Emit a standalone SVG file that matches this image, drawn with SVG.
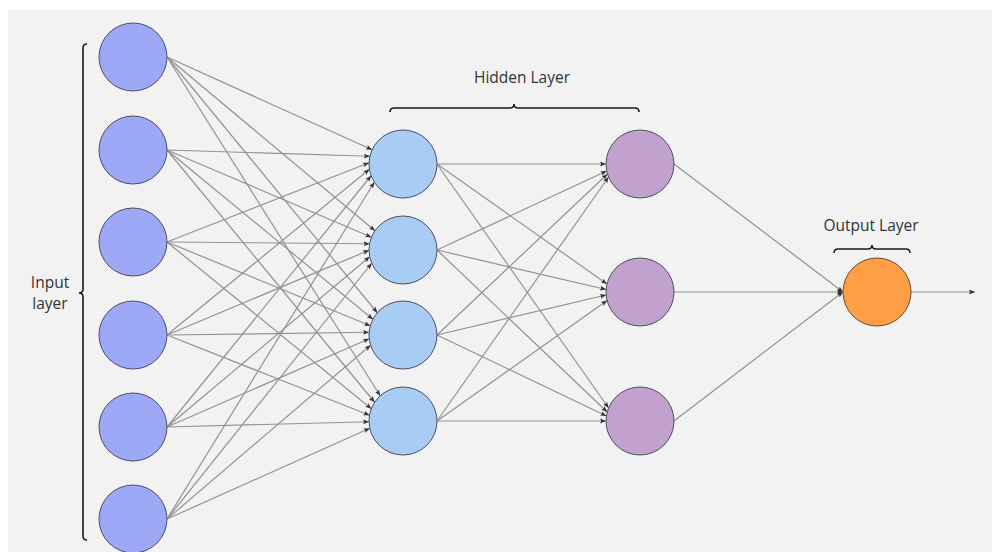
<svg xmlns="http://www.w3.org/2000/svg" width="992" height="552" viewBox="0 0 992 552">
<defs>
<marker id="arr" viewBox="0 0 10 10" refX="10" refY="5" markerWidth="6" markerHeight="6" orient="auto" markerUnits="userSpaceOnUse">
<path d="M0,1 L10,5 L0,9 L2,5 Z" fill="#333"/>
</marker>
<style>
.e{stroke:#929292;stroke-width:1.2;fill:none;marker-end:url(#arr)}
.n{stroke:#4d4d66;stroke-width:1}
.in{fill:#9DA8F7}
.h1{fill:#A8CCF3}
.h2{fill:#C1A2CF}
.out{fill:#FF9F45;stroke:#6b4a2a}
.br{fill:none;stroke:#1a1a1a;stroke-width:1.6}
.t{font-family:"Open Sans","Noto Sans",sans-serif;font-size:15.5px;fill:#333;text-anchor:middle}
</style>
</defs>
<rect x="0" y="0" width="992" height="552" fill="#ffffff"/>
<rect x="8" y="10" width="984" height="542" fill="#f2f2f2"/>
<g id="connectors">
<!-- input -> hidden1 a -->
<line class="e" x1="167" y1="57" x2="372.1" y2="149.75"/>
<line class="e" x1="167" y1="150" x2="369.9" y2="156.25"/>
<line class="e" x1="167" y1="242" x2="369.0" y2="162.75"/>
<line class="e" x1="167" y1="335" x2="369.4" y2="169.25"/>
<line class="e" x1="167" y1="427" x2="371.1" y2="175.75"/>
<line class="e" x1="167" y1="519" x2="374.3" y2="182.25"/>
<!-- input -> hidden1 b -->
<line class="e" x1="167" y1="57" x2="375.0" y2="230.75"/>
<line class="e" x1="167" y1="150" x2="371.5" y2="237.25"/>
<line class="e" x1="167" y1="242" x2="369.6" y2="243.75"/>
<line class="e" x1="167" y1="335" x2="369.0" y2="250.25"/>
<line class="e" x1="167" y1="427" x2="369.7" y2="256.75"/>
<line class="e" x1="167" y1="519" x2="371.7" y2="263.25"/>
<!-- input -> hidden1 c -->
<line class="e" x1="167" y1="57" x2="377.3" y2="312.75"/>
<line class="e" x1="167" y1="150" x2="372.9" y2="319.25"/>
<line class="e" x1="167" y1="242" x2="370.3" y2="325.75"/>
<line class="e" x1="167" y1="335" x2="369.1" y2="332.25"/>
<line class="e" x1="167" y1="427" x2="369.2" y2="338.75"/>
<line class="e" x1="167" y1="519" x2="370.6" y2="345.25"/>
<!-- input -> hidden1 d -->
<line class="e" x1="167" y1="57" x2="380.2" y2="395.75"/>
<line class="e" x1="167" y1="150" x2="374.6" y2="402.25"/>
<line class="e" x1="167" y1="242" x2="371.3" y2="408.75"/>
<line class="e" x1="167" y1="335" x2="369.5" y2="415.25"/>
<line class="e" x1="167" y1="427" x2="369.0" y2="421.75"/>
<line class="e" x1="167" y1="519" x2="369.8" y2="428.25"/>
<!-- hidden1 -> hidden2 a -->
<line class="e" x1="437" y1="164" x2="606" y2="164"/>
<line class="e" x1="437" y1="250" x2="606.7" y2="171"/>
<line class="e" x1="437" y1="335" x2="607.5" y2="174"/>
<line class="e" x1="437" y1="421" x2="608.6" y2="177"/>
<!-- hidden1 -> hidden2 b -->
<line class="e" x1="437" y1="164" x2="607.0" y2="284"/>
<line class="e" x1="437" y1="250" x2="606.1" y2="289.5"/>
<line class="e" x1="437" y1="335" x2="606.1" y2="295"/>
<line class="e" x1="437" y1="421" x2="607.1" y2="300.5"/>
<!-- hidden1 -> hidden2 c -->
<line class="e" x1="437" y1="164" x2="608.6" y2="408"/>
<line class="e" x1="437" y1="250" x2="607.2" y2="412"/>
<line class="e" x1="437" y1="335" x2="606.4" y2="416"/>
<line class="e" x1="437" y1="421" x2="606" y2="421"/>
<!-- hidden2 -> output -->
<line class="e" x1="674" y1="164" x2="843" y2="292"/>
<line class="e" x1="674" y1="292" x2="843" y2="292"/>
<line class="e" x1="674" y1="421" x2="843" y2="292"/>
<!-- output -->
<line class="e" x1="911" y1="292" x2="975" y2="292"/>
</g>
<g id="input-nodes">
<g id="in1"><circle class="n in" cx="133" cy="57" r="34"/></g>
<g id="in2"><circle class="n in" cx="133" cy="150" r="34"/></g>
<g id="in3"><circle class="n in" cx="133" cy="242" r="34"/></g>
<g id="in4"><circle class="n in" cx="133" cy="335" r="34"/></g>
<g id="in5"><circle class="n in" cx="133" cy="427" r="34"/></g>
<g id="in6"><circle class="n in" cx="133" cy="519" r="34"/></g>
</g>
<g id="hidden1-nodes">
<g id="h1a"><circle class="n h1" cx="403" cy="164" r="34"/></g>
<g id="h1b"><circle class="n h1" cx="403" cy="250" r="34"/></g>
<g id="h1c"><circle class="n h1" cx="403" cy="335" r="34"/></g>
<g id="h1d"><circle class="n h1" cx="403" cy="421" r="34"/></g>
</g>
<g id="hidden2-nodes">
<g id="h2a"><circle class="n h2" cx="640" cy="164" r="34"/></g>
<g id="h2b"><circle class="n h2" cx="640" cy="292" r="34"/></g>
<g id="h2c"><circle class="n h2" cx="640" cy="421" r="34"/></g>
</g>
<g id="output-node"><circle class="n out" cx="877" cy="292" r="34"/></g>
<g id="input-label">
<path class="br" d="M87,44 Q83,44 83,48 L83,289 Q83,293 79,293 Q83,293 83,297 L83,536 Q83,540 87,540"/>
<text class="t" x="50" y="288">Input</text>
<text class="t" x="50" y="309">layer</text>
</g>
<g id="hidden-label">
<path class="br" d="M390,112 Q390,108 394,108 L510,108 Q514,108 514,104 Q514,108 518,108 L635,108 Q639,108 639,112"/>
<text class="t" x="522" y="83">Hidden Layer</text>
</g>
<g id="output-label">
<path class="br" d="M834,253 Q834,249 838,249 L868,249 Q872,249 872,245 Q872,249 876,249 L906,249 Q910,249 910,253"/>
<text class="t" x="871" y="231">Output Layer</text>
</g>
</svg>
